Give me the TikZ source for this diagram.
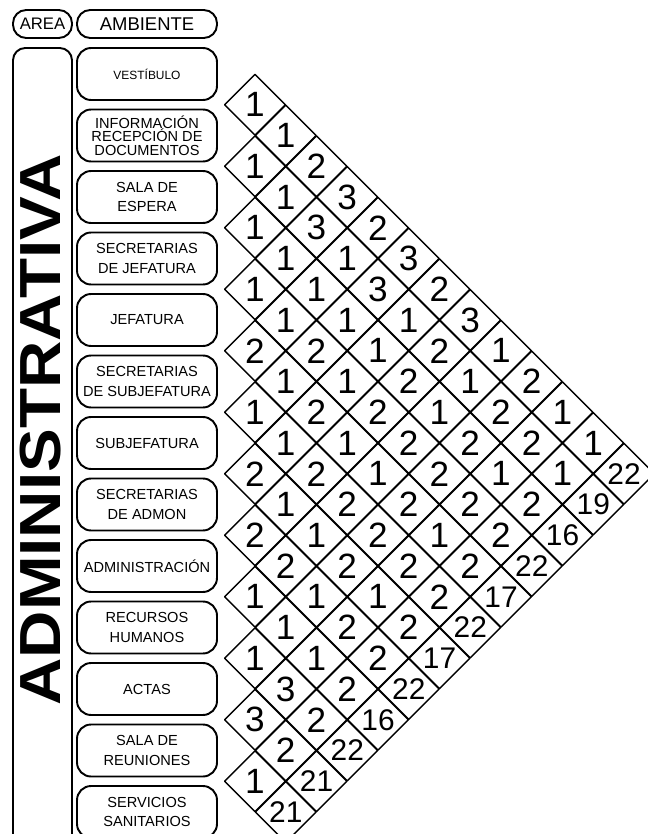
\documentclass[tikz,border=0pt]{standalone}
\usepackage{fontspec}
\setmainfont{Liberation Sans}
\usepackage{graphicx}
\usetikzlibrary{shapes.geometric}
\begin{document}
\begin{tikzpicture}[x=0.02cm, y=-0.02cm, line join=round, line cap=round,
	rotulo/.style={draw, line width=1.1pt, rounded corners=7.5pt, minimum height=0.56cm, inner sep=1pt},
	caja/.style={draw, line width=1.1pt, rounded corners=8pt, align=center, minimum width=2.8cm, minimum height=1.04cm, inner sep=1pt},
	celda/.style={draw, diamond, line width=0.8pt, minimum size=1.23cm, inner sep=0pt, font=\fontsize{20}{20}\selectfont},
	total/.style={celda, font=\fontsize{17}{17}\selectfont}]
	\useasboundingbox (0,0) rectangle (648,834);
	\node[rotulo, minimum width=1.18cm, font=\fontsize{9.5}{9.5}\selectfont] (area) at (42.5,24) {AREA};
	\node[rotulo, minimum width=2.8cm, font=\fontsize{10.5}{10.5}\selectfont] (amb) at (147,24) {AMBIENTE};
	\draw[line width=1.1pt, rounded corners=7pt] (13,870) -- (13,48) -- (72,48) -- (72,870);
	\node[rotate=90, inner sep=0pt, font=\fontsize{33}{33}\selectfont\bfseries] (adm) at (41,430) {\scalebox{1.13}[1]{ADMINISTRATIVA}};
	\foreach \t/\f/\b [count=\i] in {VESTÍBULO/6.8/8, INFORMACIÓN\\RECEPCIÓN DE\\DOCUMENTOS/8.3/7.6, SALA DE\\ESPERA/8.3/11.3, SECRETARIAS\\DE JEFATURA/8.3/11.3, JEFATURA/8.3/11.3, SECRETARIAS\\DE SUBJEFATURA/8.3/11.3, SUBJEFATURA/8.3/11.3, SECRETARIAS\\DE ADMON/8.3/11.3, ADMINISTRACIÓN/8.3/11.3, RECURSOS\\HUMANOS/8.3/11.3, ACTAS/8.3/11.3, SALA DE\\REUNIONES/8.3/11.3, SERVICIOS\\SANITARIOS/8.3/11.3}
		\node[caja, font=\fontsize{\f}{\b}\selectfont] (a\i) at (147,{12.5+\i*61.5}) {\t};
	\foreach \col [count=\k] in {{1,1,1,1,2,1,2,2,1,1,3,1},{1,1,1,1,1,1,1,2,1,3,2},{2,3,1,2,2,2,1,1,1,2},{3,1,1,1,1,2,2,2,2},{2,3,1,2,1,2,1,2},{3,1,2,2,2,2,2},{2,2,1,2,1,2},{3,1,2,2,2},{1,2,1,2},{2,2,2},{1,1},{1}}
		\foreach \v [count=\i] in \col
			\node[celda] (c\i-\k) at ({224.25+\k*30.75},{12.5+\i*61.5+\k*30.75}) {\v};
	\foreach \t [count=\i] in {22,19,16,22,17,22,17,22,16,22,21,21}
		\node[total] (t\i) at ({224.25+(14-\i)*30.75},{12.5+\i*61.5+(14-\i)*30.75}) {\t};
\end{tikzpicture}
\end{document}
